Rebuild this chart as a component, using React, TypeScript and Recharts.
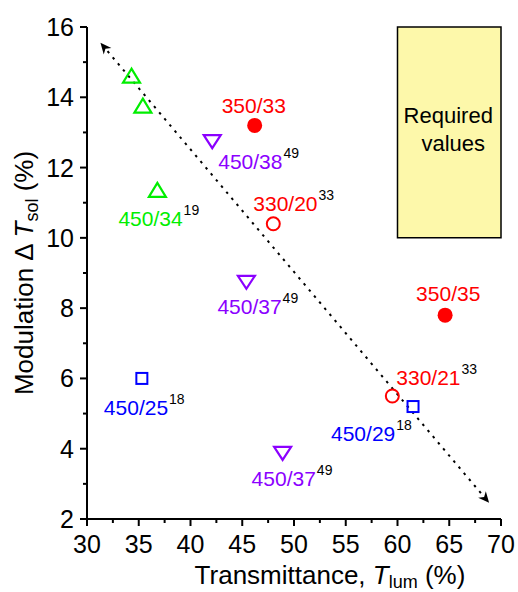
import React from 'react'
import { ScatterChart, Scatter, XAxis, YAxis, ReferenceArea, ReferenceLine } from 'recharts'

const FONT = '"Liberation Sans", Arial, sans-serif'

// axis ticks
const X_MAJOR = [30, 35, 40, 45, 50, 55, 60, 65, 70]
const X_MINOR = [32.5, 37.5, 42.5, 47.5, 52.5, 57.5, 62.5, 67.5]
const Y_MAJOR = [2, 4, 6, 8, 10, 12, 14, 16]
const Y_MINOR = [3, 5, 7, 9, 11, 13, 15]

// points, one pair of arrays per marker style
const greenX = [34.3, 35.4, 36.8]
const greenY = [14.6, 13.75, 11.35]
const redFilledX = [46.2, 64.6]
const redFilledY = [13.2, 7.8]
const redOpenX = [48.0, 59.5]
const redOpenY = [10.4, 5.5]
const purpleX = [42.1, 45.4, 48.9]
const purpleY = [12.75, 8.75, 3.88]
const blueX = [35.3, 61.5]
const blueY = [6.0, 5.2]

// point annotations
const labelText = ['350/33', '450/38', '330/20', '450/34', '450/37', '350/35', '330/21', '450/25', '450/29', '450/37']
const labelRef = ['', '49', '33', '19', '49', '', '33', '18', '18', '49']
const labelX = [redFilledX[0], purpleX[0], redOpenX[0], greenX[2], purpleX[1], redFilledX[1], redOpenX[1], blueX[0], blueX[1], purpleX[2]]
const labelY = [redFilledY[0], purpleY[0], redOpenY[0], greenY[2], purpleY[1], redFilledY[1], redOpenY[1], blueY[0], blueY[1], purpleY[2]]
const labelColor = ['red', 'purple', 'red', 'green', 'purple', 'red', 'red', 'blue', 'blue', 'purple']
// text offset from its point, px (left edge, baseline)
const labelDX = [-33, 6, -20, -39, -29, -29, 4, -38, -82, -31]
const labelDY = [-12.5, 27.5, -12.5, 35.5, 32.5, -14.5, -11.5, 36.5, 34.5, 33.5]

// trend arrow and required-values box
const arrowFrom = { x: 31.3, y: 15.55 }
const arrowTo = { x: 68.85, y: 2.46 }
const boxX = [60, 70]
const boxY = [10, 16]

const COLORS: Record<string, string> = {
  red: '#ff0000',
  green: '#00ee00',
  purple: '#8b00ff',
  blue: '#0000ff',
}

const zip = (xs: number[], ys: number[]) => xs.map((x, i) => ({ x, y: ys[i] }))

const labels = labelText.map((text, i) => ({
  x: labelX[i],
  y: labelY[i],
  text,
  ref: labelRef[i],
  color: COLORS[labelColor[i]],
  dx: labelDX[i],
  dy: labelDY[i],
}))

const xTicks = [...X_MAJOR, ...X_MINOR].sort((a, b) => a - b)
const yTicks = [...Y_MAJOR, ...Y_MINOR].sort((a, b) => a - b)
const axisLine = { stroke: '#000', strokeWidth: 2 }

const BottomTick = (p: any) => {
  const major = X_MAJOR.includes(p.payload.value)
  return (
    <g>
      <line x1={p.x} x2={p.x} y1={p.y} y2={p.y + (major ? 7 : 4)} stroke="#000" strokeWidth={2} />
      {major && (
        <text x={p.x} y={p.y + 34} textAnchor="middle" fontSize={25} fontFamily={FONT} fill="#000">
          {p.payload.value}
        </text>
      )}
    </g>
  )
}

const TopTick = (p: any) => {
  const major = X_MAJOR.includes(p.payload.value)
  return <line x1={p.x} x2={p.x} y1={p.y} y2={p.y + (major ? 6 : 4)} stroke="#000" strokeWidth={2} />
}

const LeftTick = (p: any) => {
  const major = Y_MAJOR.includes(p.payload.value)
  return (
    <g>
      <line x1={p.x - (major ? 7 : 4)} x2={p.x} y1={p.y} y2={p.y} stroke="#000" strokeWidth={2} />
      {major && (
        <text x={p.x - 13} y={p.y + 9} textAnchor="end" fontSize={25} fontFamily={FONT} fill="#000">
          {p.payload.value}
        </text>
      )}
    </g>
  )
}

const RightTick = (p: any) => {
  const major = Y_MAJOR.includes(p.payload.value)
  return <line x1={p.x - (major ? 6 : 4)} x2={p.x} y1={p.y} y2={p.y} stroke="#000" strokeWidth={2} />
}

const XTitle = (p: any) => {
  const vb = p.viewBox ?? { x: 87, y: 519, width: 414, height: 73 }
  return (
    <text x={vb.x + vb.width / 2 + 36} y={vb.y + 64.5} textAnchor="middle" fontSize={26} fontFamily={FONT} fill="#000">
      Transmittance,{' '}
      <tspan fontStyle="italic">T</tspan>
      <tspan fontSize={18} dy={4}>lum</tspan>
      <tspan dy={-4}> (%)</tspan>
    </text>
  )
}

const YTitle = (p: any) => {
  const vb = p.viewBox ?? { x: 0, y: 27, width: 87, height: 492 }
  const cx = vb.x + 33
  const cy = vb.y + vb.height / 2
  return (
    <text x={cx} y={cy} transform={`rotate(-90, ${cx}, ${cy})`} textAnchor="middle" fontSize={26} fontFamily={FONT} fill="#000">
      Modulation Δ <tspan fontStyle="italic">T</tspan>
      <tspan fontSize={18} dy={5}>sol</tspan>
      <tspan dy={-5}> (%)</tspan>
    </text>
  )
}

const BoxLabel = (p: any) => {
  const vb = p.viewBox ?? { x: 398, y: 27, width: 103, height: 210 }
  const cx = vb.x + vb.width / 2
  return (
    <text fontSize={22} fontFamily={FONT} fill="#000" textAnchor="middle">
      <tspan x={cx - 1} y={vb.y + 96}>Required</tspan>
      <tspan x={cx + 4} y={vb.y + 124}>values</tspan>
    </text>
  )
}

const Arrow = (p: any) => {
  const { x1, y1, x2, y2 } = p
  const len = Math.hypot(x2 - x1, y2 - y1)
  const ux = (x2 - x1) / len
  const uy = (y2 - y1) / len
  const L = 11
  const W = 5
  const head = (tx: number, ty: number, dx: number, dy: number) =>
    [
      [tx, ty],
      [tx - dx * L - dy * W, ty - dy * L + dx * W],
      [tx - dx * L * 0.7, ty - dy * L * 0.7],
      [tx - dx * L + dy * W, ty - dy * L - dx * W],
    ]
      .map(q => q.join(','))
      .join(' ')
  return (
    <g>
      <line
        x1={x1 + ux * L}
        y1={y1 + uy * L}
        x2={x2 - ux * L}
        y2={y2 - uy * L}
        stroke="#000"
        strokeWidth={2}
        strokeDasharray="2.5 5.5"
      />
      <polygon points={head(x1, y1, -ux, -uy)} fill="#000" />
      <polygon points={head(x2, y2, ux, uy)} fill="#000" />
    </g>
  )
}

const TriUp = (p: any) => (
  <polygon
    points={`${p.cx},${p.cy - 7.5} ${p.cx - 8.5},${p.cy + 6.5} ${p.cx + 8.5},${p.cy + 6.5}`}
    fill="none"
    stroke={COLORS.green}
    strokeWidth={2.2}
  />
)
const TriDown = (p: any) => (
  <polygon
    points={`${p.cx - 8.5},${p.cy - 6} ${p.cx + 8.5},${p.cy - 6} ${p.cx},${p.cy + 7}`}
    fill="none"
    stroke={COLORS.purple}
    strokeWidth={2.2}
  />
)
const Square = (p: any) => (
  <rect x={p.cx - 5.5} y={p.cy - 5.5} width={11} height={11} fill="none" stroke={COLORS.blue} strokeWidth={2} />
)
const DotFilled = (p: any) => <circle cx={p.cx} cy={p.cy} r={7.5} fill={COLORS.red} />
const DotOpen = (p: any) => <circle cx={p.cx} cy={p.cy} r={6.5} fill="none" stroke={COLORS.red} strokeWidth={2} />

const PointLabel = (p: any) => {
  const d = p.payload
  return (
    <text x={p.cx + d.dx} y={p.cy + d.dy} fontSize={21} fontFamily={FONT}>
      <tspan fill={d.color}>{d.text}</tspan>
      {d.ref && (
        <tspan fill="#000" fontSize={14} dx={1} dy={-11}>
          {d.ref}
        </tspan>
      )}
    </text>
  )
}

export default function App() {
  return (
    <div style={{ position: 'absolute', left: 0, top: 0, width: 518, height: 592, background: '#fff' }}>
      <ScatterChart width={518} height={592} margin={{ top: 27, right: 17, bottom: 0, left: 0 }}>
        <XAxis
          type="number"
          dataKey="x"
          domain={[30, 70]}
          ticks={xTicks}
          interval={0}
          tickSize={0}
          tickMargin={0}
          tickLine={false}
          axisLine={axisLine}
          tick={(p: any) => <BottomTick {...p} />}
          height={73}
          allowDataOverflow
          label={(p: any) => <XTitle {...p} />}
        />
        <XAxis
          xAxisId="top"
          orientation="top"
          type="number"
          domain={[30, 70]}
          ticks={xTicks}
          interval={0}
          tickSize={0}
          tickMargin={0}
          tickLine={false}
          axisLine={axisLine}
          tick={(p: any) => <TopTick {...p} />}
          height={0}
          allowDataOverflow
        />
        <YAxis
          type="number"
          dataKey="y"
          domain={[2, 16]}
          ticks={yTicks}
          interval={0}
          tickSize={0}
          tickMargin={0}
          tickLine={false}
          axisLine={axisLine}
          tick={(p: any) => <LeftTick {...p} />}
          width={87}
          allowDataOverflow
          label={(p: any) => <YTitle {...p} />}
        />
        <YAxis
          yAxisId="right"
          orientation="right"
          type="number"
          domain={[2, 16]}
          ticks={yTicks}
          interval={0}
          tickSize={0}
          tickMargin={0}
          tickLine={false}
          axisLine={axisLine}
          tick={(p: any) => <RightTick {...p} />}
          width={0}
          allowDataOverflow
        />
        <ReferenceArea
          x1={boxX[0]}
          x2={boxX[1]}
          y1={boxY[0]}
          y2={boxY[1]}
          fill="#fdf8aa"
          fillOpacity={1}
          stroke="#000"
          strokeWidth={1.5}
          label={(p: any) => <BoxLabel {...p} />}
        />
        <ReferenceLine segment={[arrowFrom, arrowTo]} shape={(p: any) => <Arrow {...p} />} />
        <Scatter data={zip(greenX, greenY)} shape={TriUp} isAnimationActive={false} />
        <Scatter data={zip(purpleX, purpleY)} shape={TriDown} isAnimationActive={false} />
        <Scatter data={zip(blueX, blueY)} shape={Square} isAnimationActive={false} />
        <Scatter data={zip(redFilledX, redFilledY)} shape={DotFilled} isAnimationActive={false} />
        <Scatter data={zip(redOpenX, redOpenY)} shape={DotOpen} isAnimationActive={false} />
        <Scatter data={labels} shape={PointLabel} isAnimationActive={false} />
      </ScatterChart>
    </div>
  )
}
